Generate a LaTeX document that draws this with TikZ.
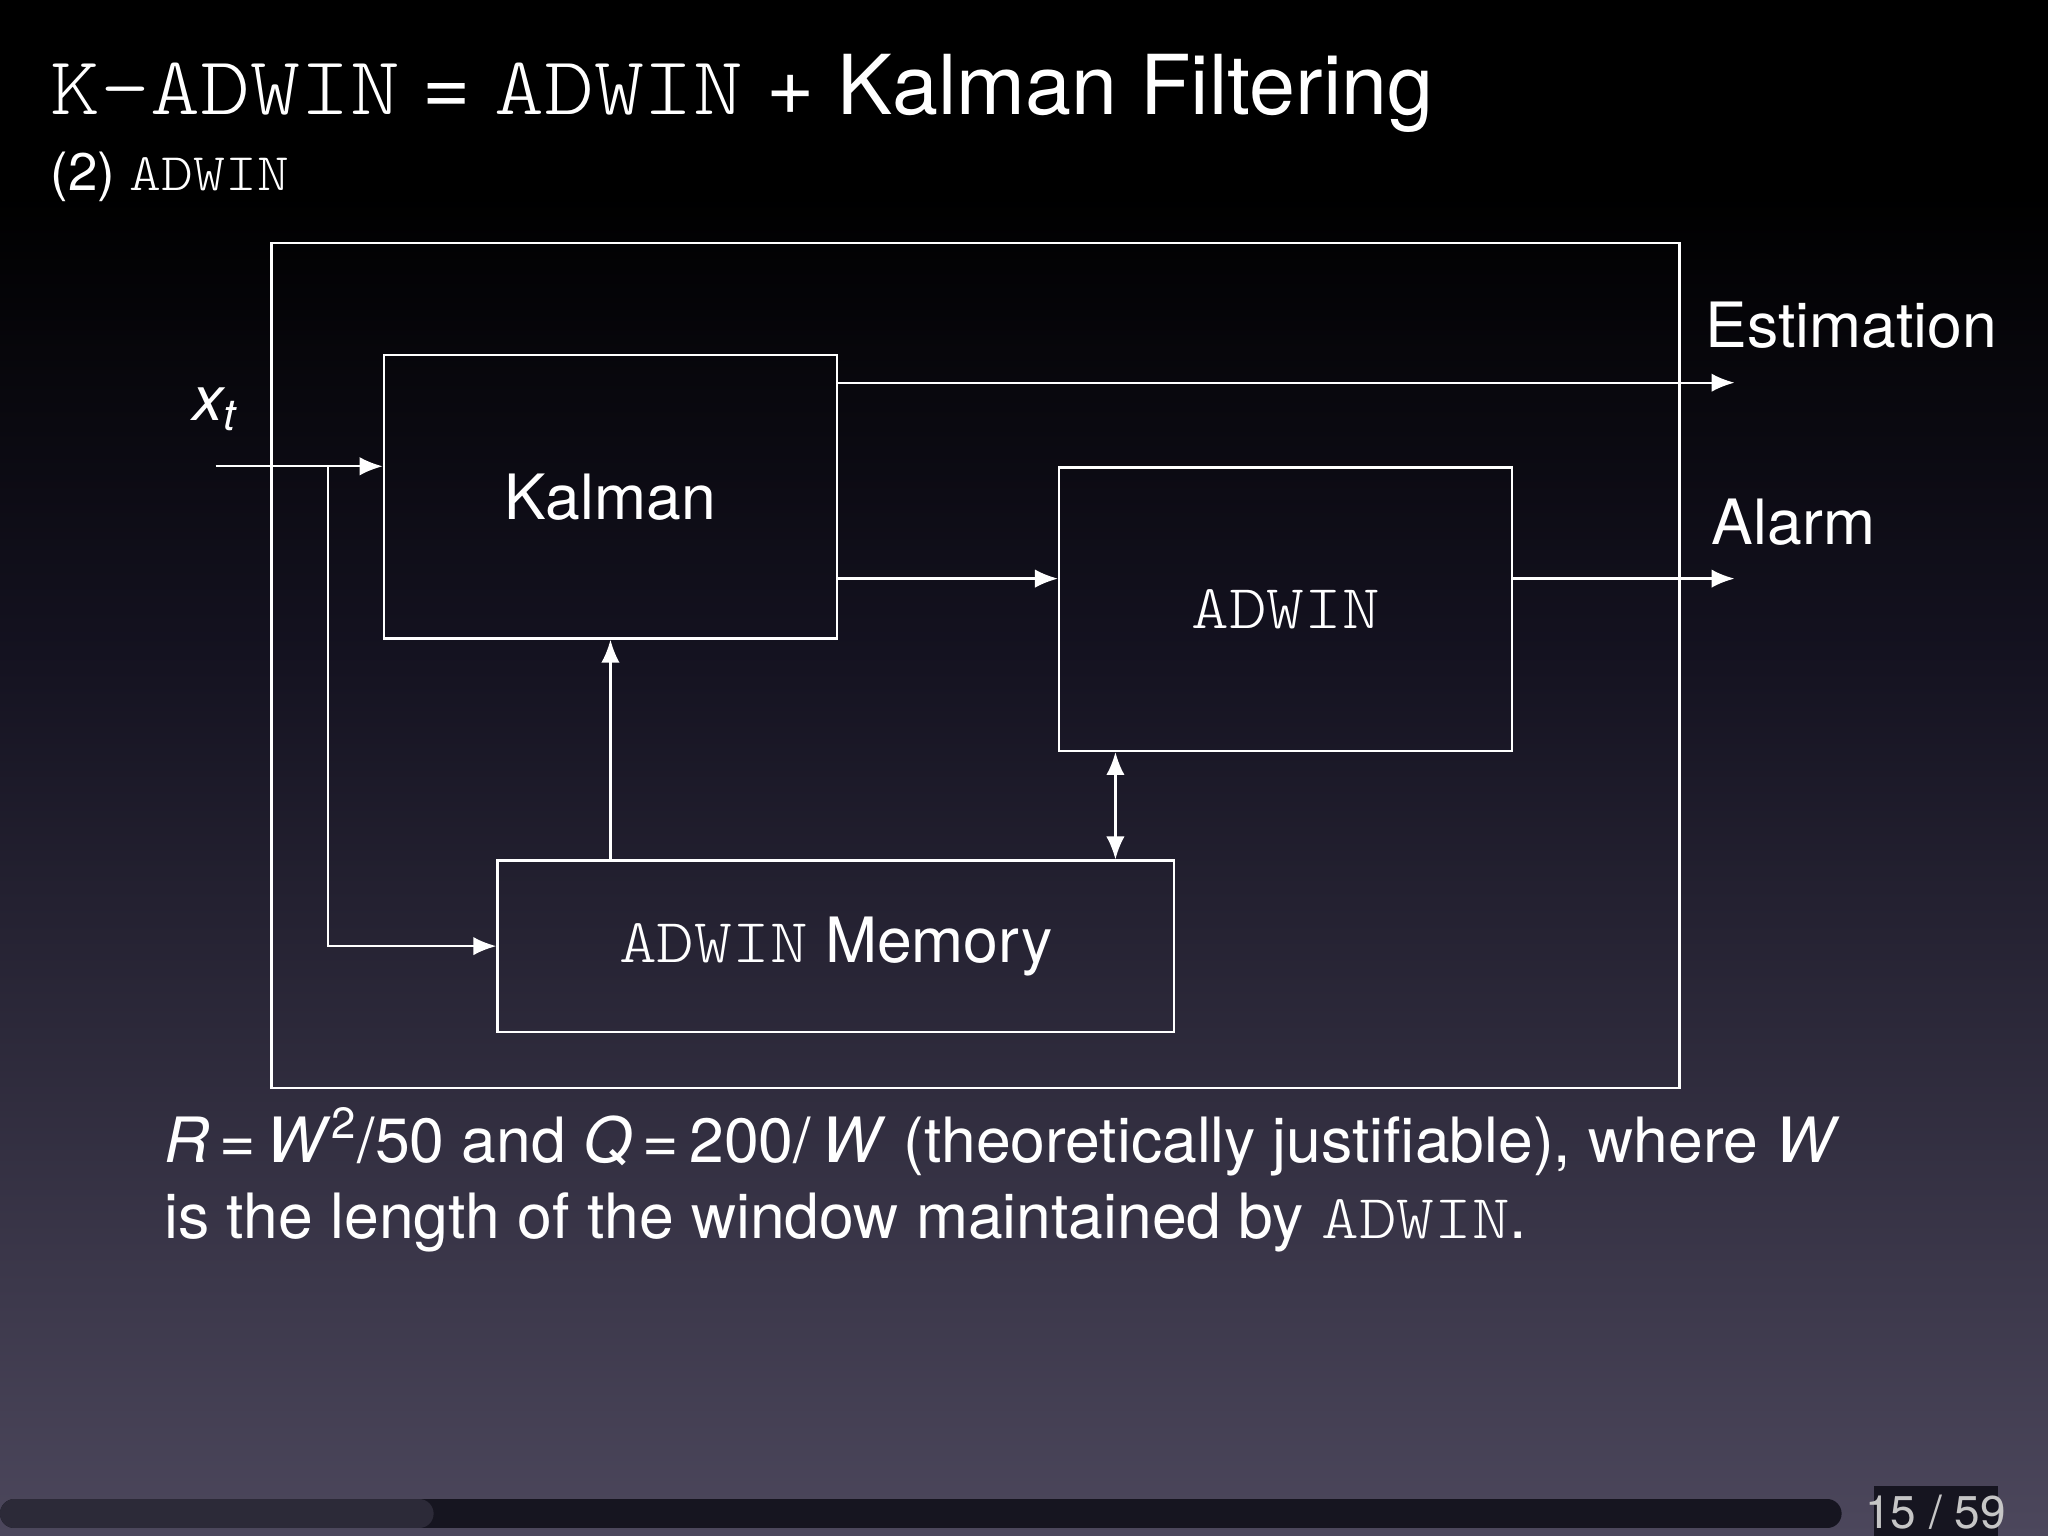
\documentclass[tikz,border=0pt]{standalone}
\usepackage{fontspec}
\setmainfont{TeX Gyre Heros}
\newfontfamily\monof[FakeStretch=1.15]{Latin Modern Mono Light}
\usetikzlibrary{arrows.meta}
\definecolor{bgtop}{RGB}{0,0,0}
\definecolor{bgmid}{RGB}{20,18,32}
\definecolor{bgbot}{RGB}{76,71,92}
\definecolor{barA}{RGB}{22,21,32}
\definecolor{barB}{RGB}{44,42,56}
\newcommand{\tw}[1]{{\monof #1}}
\begin{document}
\begin{tikzpicture}[x=0.01cm,y=-0.01cm,
  blk/.style={draw=white,line width=0.5pt,anchor=north west,inner sep=0pt},
  ar/.style={draw=white,line width=0.5pt,-{Latex[length=5pt,width=4pt]}},
  lbl/.style={text=white,font=\fontsize{13.6}{17}\selectfont,inner sep=0pt}]
\fill[bgtop] (0,0) rectangle (1568,150);
\shade[top color=bgtop,bottom color=bgmid] (0,149) rectangle (1568,500);
\shade[top color=bgmid,bottom color=bgbot] (0,499) rectangle (1568,1176);
\useasboundingbox (0,0) rectangle (1568,1176);
% title
\node[anchor=base west,text=white,inner sep=0pt,font=\fontsize{18}{22}\selectfont] (title) at (38,88) {\tw{K-ADWIN} = \tw{ADWIN} + Kalman Filtering};
\node[anchor=base west,text=white,inner sep=0pt,font=\fontsize{11.5}{14}\selectfont] (sub) at (38,146) {(2) \tw{ADWIN}};
% boxes
\node[blk,minimum width=1078*0.01cm,minimum height=647*0.01cm] (outer) at (207,185) {};
\node[blk,minimum width=347*0.01cm,minimum height=217*0.01cm] (kal) at (293,271) {};
\node[lbl] at (kal.center) {Kalman};
\node[blk,minimum width=347*0.01cm,minimum height=217*0.01cm] (adw) at (810,357) {};
\node[lbl] at (adw.center) {\tw{ADWIN}};
\node[blk,minimum width=518*0.01cm,minimum height=131*0.01cm] (mem) at (380,658) {};
\node[lbl] at (mem.center) {\tw{ADWIN} Memory};
% coordinates
\coordinate (in) at (165,357);
\coordinate (br) at (251,357);
\coordinate (est) at (1328,293);
\coordinate (alm) at (1328,443);
% connectors
\draw[ar] (in) -- (kal.west |- in);
\draw[ar] (br) |- (mem.west);
\draw[ar] (kal.north east |- est) -- (est);
\draw[ar] (kal.east |- alm) -- (adw.west |- alm);
\draw[ar] (adw.east |- alm) -- (alm);
\draw[ar] (mem.north -| kal.south) -- (kal.south);
\draw[draw=white,line width=0.5pt,{Latex[length=5pt,width=4pt]}-{Latex[length=5pt,width=4pt]}] (adw.south west) ++(44,0) coordinate (d1) -- (d1 |- mem.north);
% labels
\node[lbl,anchor=base] (xt) at (165,322) {\textit{x\textsubscript{t}}};
\node[lbl,anchor=base west] (le) at (1305,266) {Estimation};
\node[lbl,anchor=base west] (la) at (1310,417) {Alarm};
% text
\node[lbl,anchor=base west] (t1) at (125,890) {\textit{R}\,=\,\textit{W}\textsuperscript{2}/50 and \textit{Q}\,=\,200/\,\textit{W} (theoretically justifiable), where \textit{W}};
\node[lbl,anchor=base west] (t2) at (125,948) {is the length of the window maintained by \tw{ADWIN}.};
% footer
\draw[barA,line width=22*0.01cm,line cap=round] (11,1159) -- (1399,1159);
\draw[barB,line width=22*0.01cm,line cap=round] (11,1159) -- (321,1159);
\fill[barA] (1435,1138) rectangle (1530,1176);
\node[text=white!55!gray,font=\fontsize{10}{12}\selectfont,inner sep=0pt] (pg) at (1482,1158) {15 / 59};
\end{tikzpicture}
\end{document}
